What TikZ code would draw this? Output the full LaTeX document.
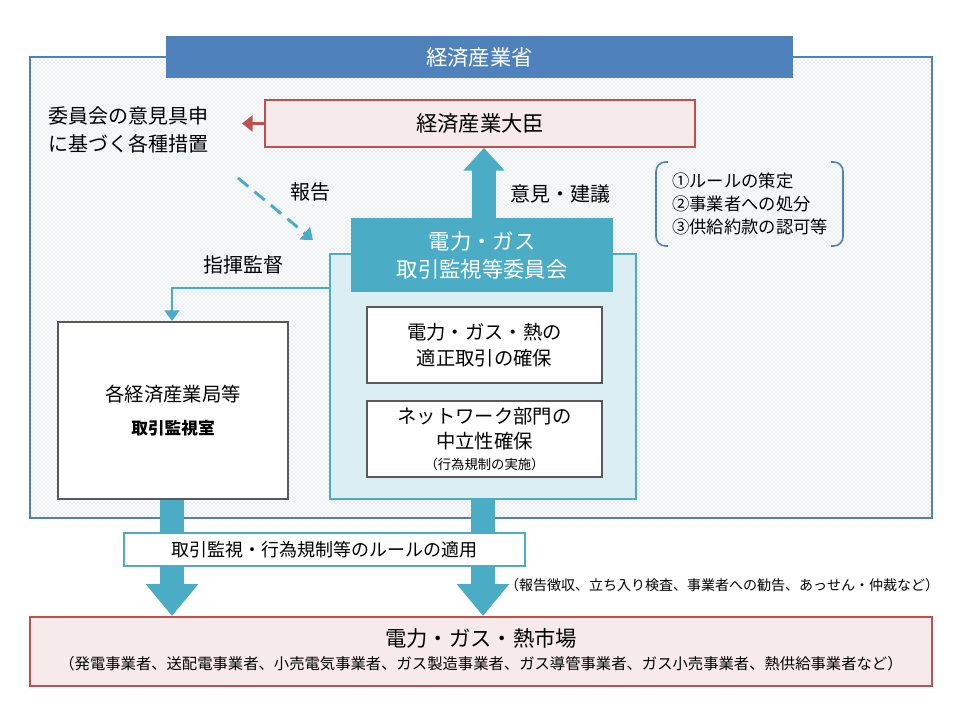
\documentclass[tikz,border=0pt]{standalone}
\usepackage{fontspec}
\setmainfont{Noto Sans CJK JP}
\usetikzlibrary{arrows.meta,positioning,fit,patterns}
\definecolor{meti}{HTML}{4F81BD}
\definecolor{teal}{HTML}{4BACC6}
\definecolor{tealbg}{HTML}{DAEEF3}
\definecolor{redline}{HTML}{C0504D}
\definecolor{pinkbg}{HTML}{F7EAEA}
\definecolor{boxline}{HTML}{595959}
\tikzset{
  box/.style={inner sep=0pt},
  txt/.style={align=center, font=\fontsize{14.5}{19}\selectfont},
  redbox/.style={box, draw=redline, line width=1.5pt, fill=pinkbg},
  graybox/.style={box, draw=boxline, line width=1.5pt, fill=white},
  blockarrow/.style={teal, line width=18pt, -{Triangle[width=#1,length=24pt]}},
}
\begin{document}
\begin{tikzpicture}[x=0.75pt,y=-0.75pt]
\useasboundingbox (0,0) rectangle (960,720);
% Ministry area
\node[fit={(30,57) (932,518)}, box, draw=meti, line width=1pt,
      pattern=crosshatch dots, pattern color=meti!55] (area) {};
\node[fit={(166,36) (793,78)}, box, fill=meti] (meti) {};
\node[txt, text=white, font=\fontsize{16}{19}\selectfont] at (meti.center) {経済産業省};
% Minister
\node[fit={(265,100) (695,147)}, redbox] (minister) {};
\node[txt, font=\fontsize{16}{19}\selectfont] at (minister.center) {経済産業大臣};
\node[anchor=west, align=left, font=\fontsize{15}{21}\selectfont] (measures) at (44,130) {委員会の意見具申\\に基づく各種措置};
\draw[redline, line width=2.2pt, -{Triangle[width=12pt,length=8pt]}] (minister.west) -- ++(-22,0);
% Report
\coordinate (rstart) at (238,178);
\coordinate (rend) at (313,240);
\draw[teal, line width=2.2pt, dash pattern=on 10pt off 6pt, -{Triangle[width=12pt,length=8pt]}] (rstart) -- (rend);
\node[font=\fontsize{15}{17}\selectfont] (report) at (310,192) {報告};
% Committee
\node[fit={(330,254) (636,499)}, box, draw=teal, line width=1.5pt, fill=tealbg] (cbody) {};
\node[fit={(351,218) (613,292)}, box, fill=teal] (chead) {};
\node[txt, text=white, font=\fontsize{16}{21}\selectfont] at (chead.center) {電力・ガス\\取引監視等委員会};
\draw[teal, line width=18pt, -{Triangle[width=30pt,length=17pt]}] (chead.north -| 484,0) -- (minister.south -| 484,0);
\node[font=\fontsize{15}{17}\selectfont] (opinion) at (560,194) {意見・建議};
\node[fit={(367,307) (602,383)}, graybox] (fair) {};
\node[txt] at (fair.center) {電力・ガス・熱の\\適正取引の確保};
\node[fit={(367,401) (602,477)}, graybox] (neutral) {};
\node[txt] at (neutral.center) {ネットワーク部門の\\中立性確保\\[-3pt]{\fontsize{10}{12}\selectfont（行為規制の実施）}};
% Rules bracket
\node[align=left, font=\fontsize{13}{17}\selectfont] (rules) at (750,204) {①ルールの策定\\②事業者への処分\\③供給約款の認可等};
\draw[meti, line width=1.2pt, rounded corners=7pt] (668,162) -- (656,162) -- (656,246) -- (668,246);
\draw[meti, line width=1.2pt, rounded corners=7pt] (831,162) -- (843,162) -- (843,246) -- (831,246);
% Regional bureaus
\node[fit={(58,322) (288,499)}, graybox] (bureau) {};
\node[txt] at (bureau.center) {各経済産業局等\\[6pt]{\fontsize{12.5}{15}\selectfont\bfseries 取引監視室}};
\draw[teal, line width=2.2pt, -{Triangle[width=11pt,length=8pt]}] (cbody.west |- 0,288) -| (bureau.north -| 172,0);
\node[font=\fontsize{15}{17}\selectfont] (command) at (243,265) {指揮監督};
% Market
\node[fit={(30,617) (932,686)}, redbox] (market) {};
\node[font=\fontsize{16}{19}\selectfont] (mtitle) at (481,638) {電力・ガス・熱市場};
\node[font=\fontsize{11.5}{14}\selectfont] (mlist) at (481,664) {（発電事業者、送配電事業者、小売電気事業者、ガス製造事業者、ガス導管事業者、ガス小売事業者、熱供給事業者など）};
\draw[blockarrow=38pt] (bureau.south -| 172,0) -- (market.north -| 172,0);
\draw[blockarrow=38pt] (cbody.south -| 483,0) -- (market.north -| 483,0);
\node[fit={(124,533) (525,566)}, box, draw=teal, line width=1.2pt, fill=white] (apply) {};
\node[font=\fontsize{13.5}{16}\selectfont] at (apply.center) {取引監視・行為規制等のルールの適用};
\node[font=\fontsize{10.5}{12}\selectfont] (powers) at (722,585) {（報告徴収、立ち入り検査、事業者への勧告、あっせん・仲裁など）};
\end{tikzpicture}
\end{document}
